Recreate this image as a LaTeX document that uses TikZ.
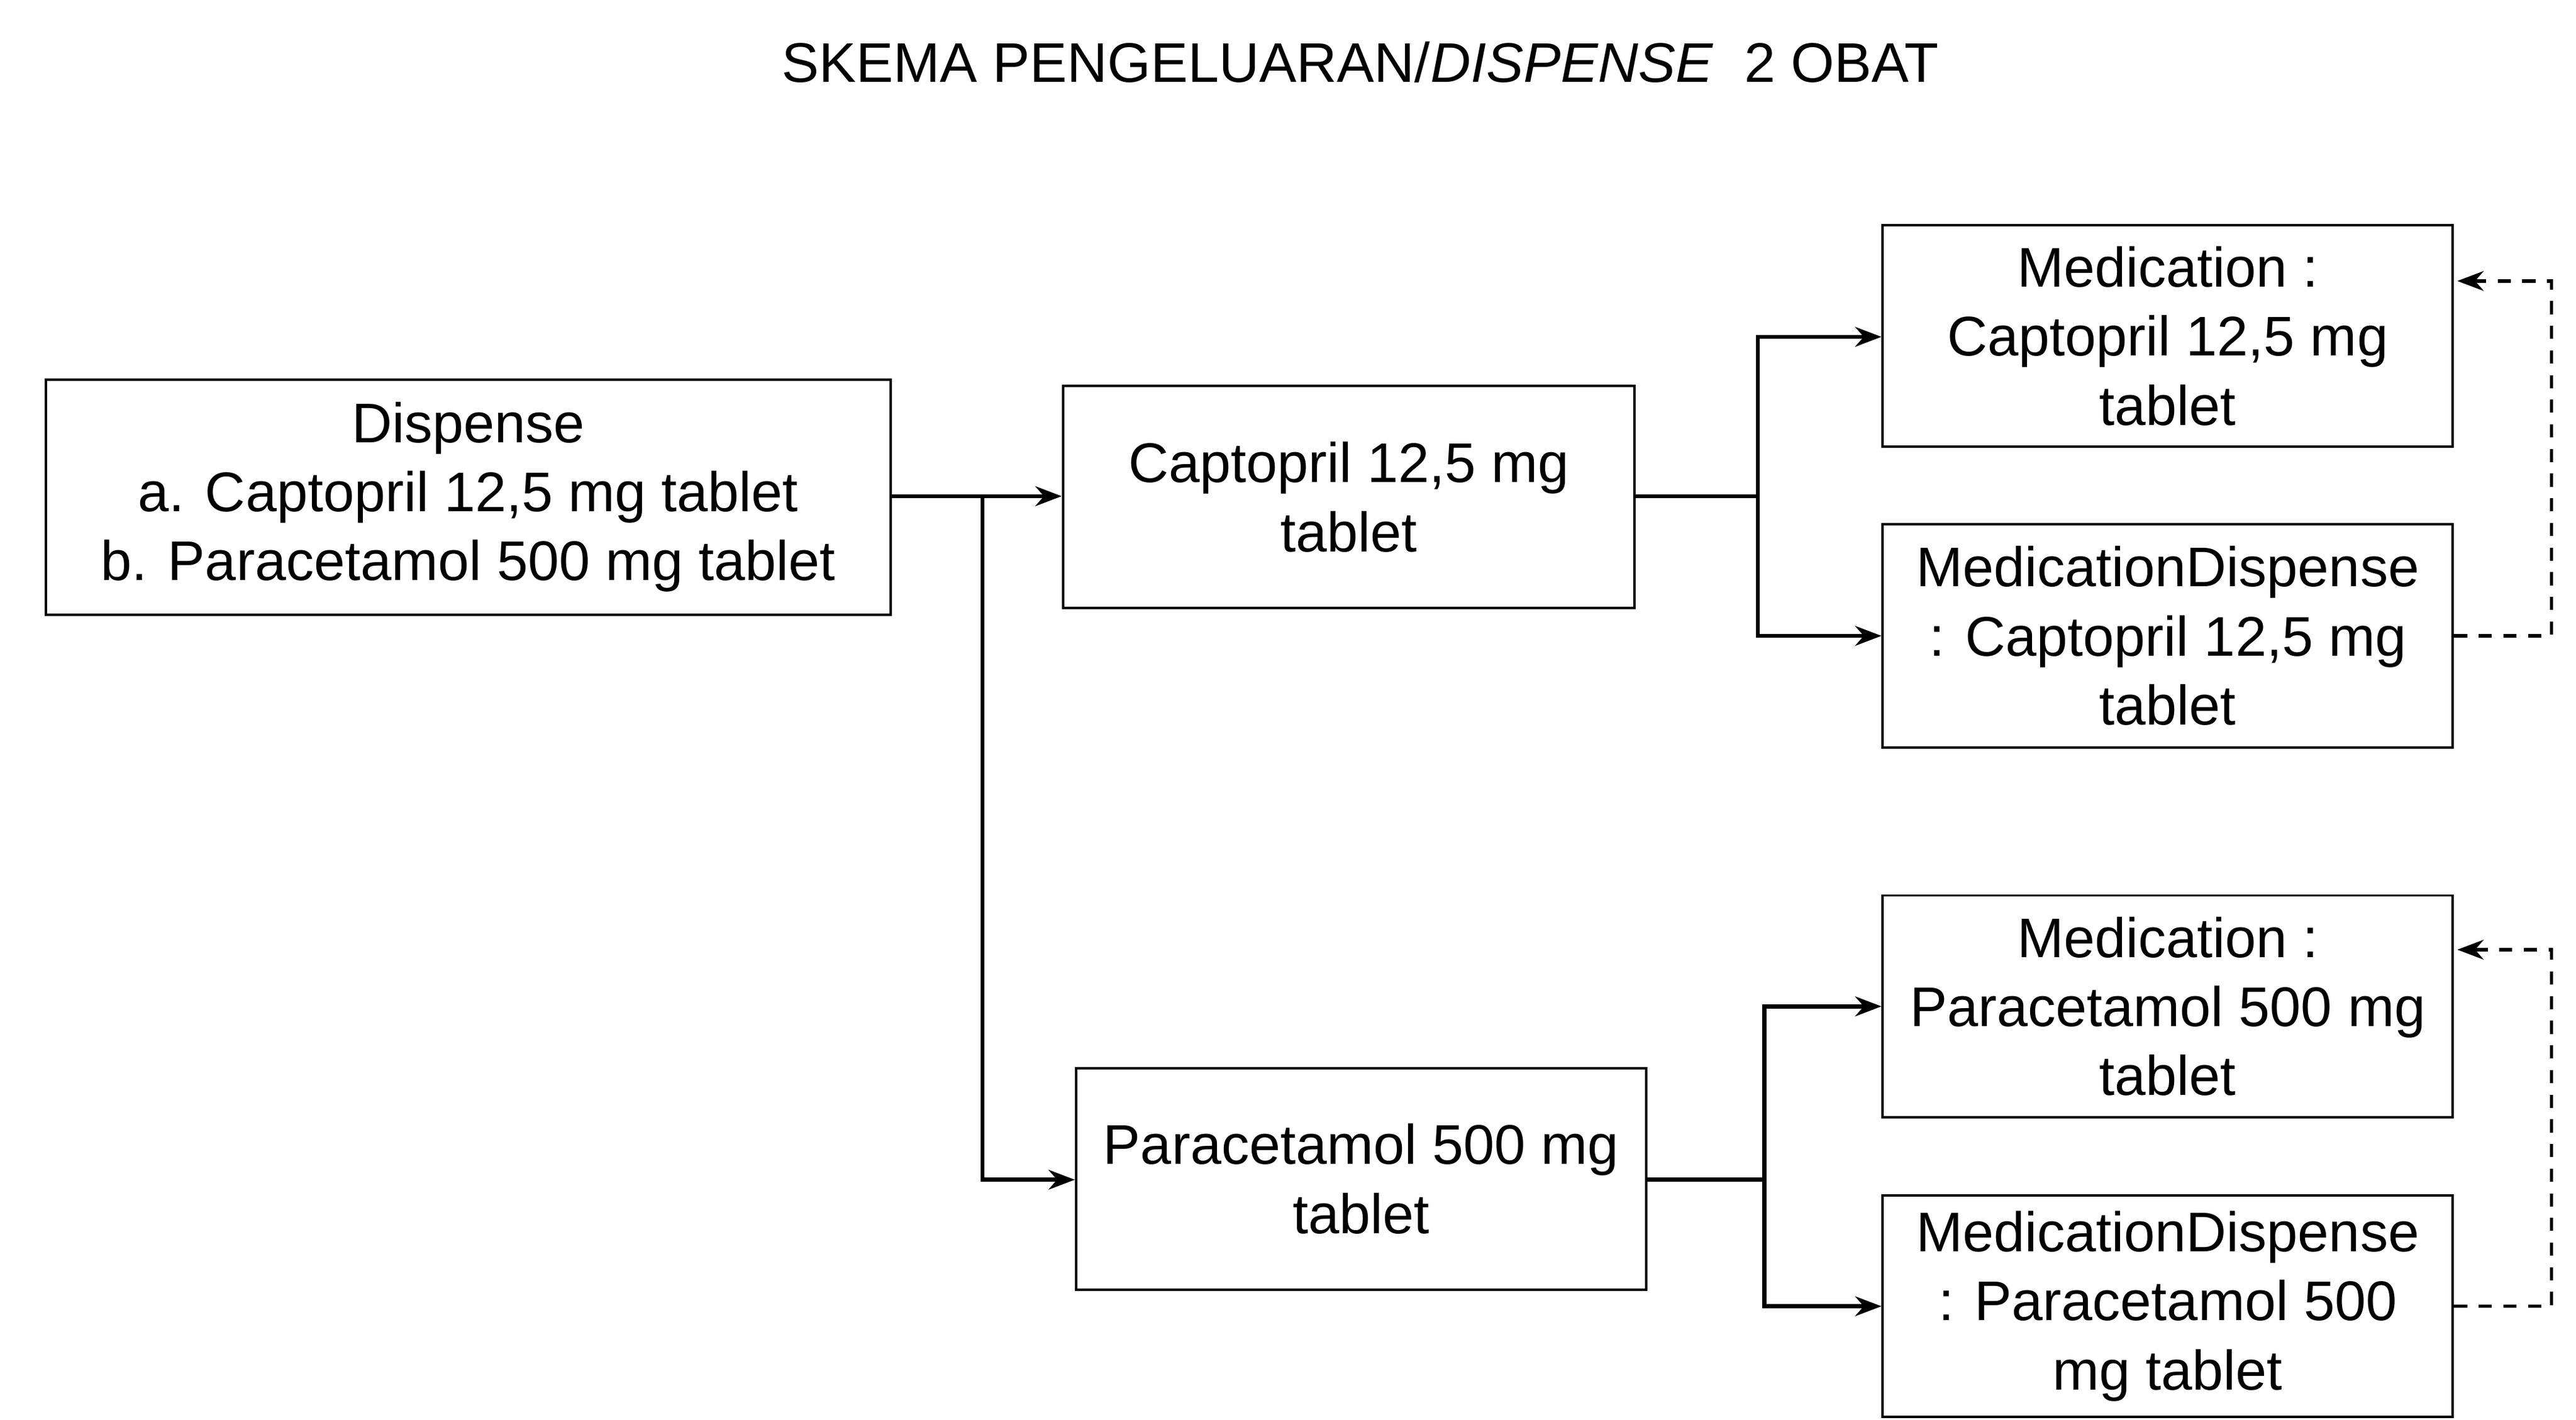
\documentclass[tikz,border=0pt]{standalone}
\usepackage{fontspec}
\setmainfont{Liberation Sans}
\usetikzlibrary{arrows.meta}
\begin{document}
\begin{tikzpicture}[x=1pt,y=-1pt,
  box/.style={draw,line width=1.5pt,align=center,font=\fontsize{34}{42}\selectfont,inner sep=0pt},
  conn/.style={line width=2.5pt,-{Stealth[length=16pt,width=12pt]}},
  dconn/.style={line width=2pt,dashed,dash pattern=on 8pt off 7pt,-{Stealth[length=16pt,width=12pt]}}]
\useasboundingbox (0,0) rectangle (1568,864);
\node[font=\fontsize{34}{42}\selectfont] (title) at (828,38) {SKEMA PENGELUARAN/\textit{DISPENSE}\ \ 2 OBAT};
\node[box,minimum width=514pt,minimum height=143pt] (d) at (285,302.5) {Dispense\\a. Captopril 12,5 mg tablet\\b. Paracetamol 500 mg tablet};
\node[box,minimum width=348pt,minimum height=135pt] (c) at (821,302.5) {Captopril 12,5 mg\\tablet};
\node[box,minimum width=347pt,minimum height=135pt] (p) at (828.5,717.5) {Paracetamol 500 mg\\tablet};
\node[box,minimum width=347pt,minimum height=135pt] (m1) at (1319.5,204.5) {Medication :\\Captopril 12,5 mg\\tablet};
\node[box,minimum width=347pt,minimum height=136pt] (md1) at (1319.5,387) {MedicationDispense\\: Captopril 12,5 mg\\tablet};
\node[box,minimum width=347pt,minimum height=135pt] (m2) at (1319.5,612.5) {Medication :\\Paracetamol 500 mg\\tablet};
\node[box,minimum width=347pt,minimum height=135pt] (md2) at (1319.5,795) {MedicationDispense\\: Paracetamol 500\\mg tablet};
\coordinate (j0) at (598,302);
\draw[conn] (d.east |- 0,302) -- (c.west |- 0,302);
\draw[conn] (j0) |- (p.west |- 0,718);
\draw[conn] (c.east |- 0,302) -- (1070,302) |- (m1.west |- 0,205);
\draw[conn] (1070,302) |- (md1.west);
\draw[conn] (p.east |- 0,718) -- (1074,718) |- (m2.west);
\draw[conn] (1074,718) |- (md2.west);
\draw[dconn] (md1.east) -- (1553,387) |- ([xshift=2pt]m1.east |- 0,171);
\draw[dconn] (md2.east) -- (1553,795) |- ([xshift=2pt]m2.east |- 0,578);
\end{tikzpicture}
\end{document}
